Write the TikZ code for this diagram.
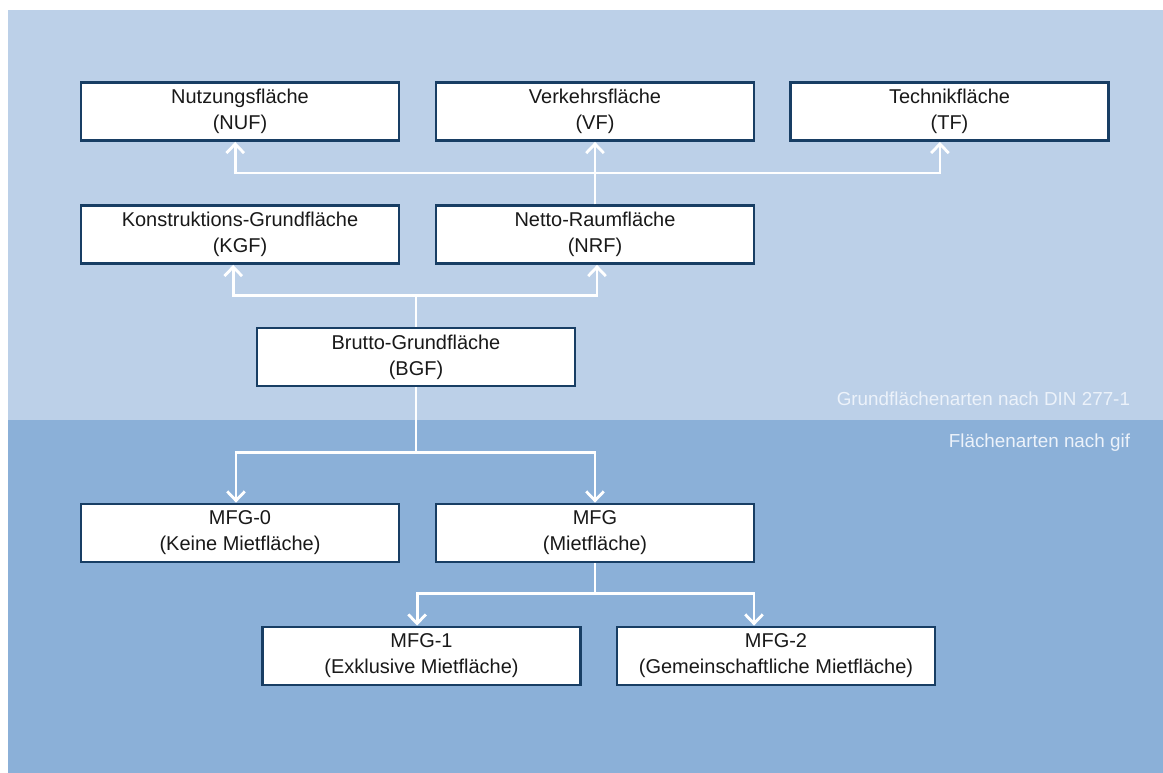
\documentclass[tikz,border=0pt]{standalone}
\usepackage{fontspec}
\setmainfont{Liberation Sans}
\usetikzlibrary{arrows.meta}

\definecolor{fondoclaro}{RGB}{188,208,232}
\definecolor{fondooscuro}{RGB}{139,176,216}
\definecolor{borde}{RGB}{24,62,100}
\definecolor{texto}{RGB}{25,25,25}
\definecolor{rotulo}{RGB}{236,242,250}

\tikzset{
    caja/.style={draw=borde, line width=2pt, fill=white, inner sep=0pt,
        minimum width=7.95cm, minimum height=1.45cm, align=center,
        text=texto, font=\fontsize{14.2}{18.6}\selectfont},
    flecha/.style={draw=white, line width=2pt,
        -{Straight Barb[length=6.5pt,width=12.5pt]}},
    rotulo/.style={anchor=east, text=rotulo, font=\fontsize{13.4}{16}\selectfont},
}

\begin{document}
\begin{tikzpicture}[x=0.025cm,y=-0.025cm]
        % Marco de la figura y las dos franjas de fondo.
        \path[use as bounding box] (0,0) rectangle (1163,773);
        \fill[fondoclaro] (8,10) rectangle (1163,420);
        \fill[fondooscuro] (8,420) rectangle (1163,773);

        % Rotulos de las dos zonas, alineados a la derecha.
        \node[rotulo] (din) at (1135,399) {Grundflächenarten nach DIN 277-1};
        \node[rotulo] (gif) at (1135,443) {Flächenarten nach gif};

        % Fila superior: NUF, VF y TF.
        \node[caja] (NUF) at (240,111.5) {Nutzungsfläche\\(NUF)};
        \node[caja] (VF) at (595,111.5) {Verkehrsfläche\\(VF)};
        \node[caja] (TF) at (949.5,111.5) {Technikfläche\\(TF)};

        % Segunda fila: KGF y NRF, debajo BGF.
        \node[caja] (KGF) at (240,234.5) {Konstruktions-Grundfläche\\(KGF)};
        \node[caja] (NRF) at (595,234.5) {Netto-Raumfläche\\(NRF)};
        \node[caja] (BGF) at (416,357) {Brutto-Grundfläche\\(BGF)};

        % Zona gif: MFG-0 y MFG, y luego MFG-1 y MFG-2.
        \node[caja] (MFG0) at (240,533) {MFG-0\\(Keine Mietfläche)};
        \node[caja] (MFG) at (595,533) {MFG\\(Mietfläche)};
        \node[caja] (MFG1) at (421.5,656) {MFG-1\\(Exklusive Mietfläche)};
        \node[caja] (MFG2) at (776,656) {MFG-2\\(Gemeinschaftliche Mietfläche)};

        % Flechas de NRF hacia NUF, VF y TF.
        \draw[flecha] (NRF.north) -- (VF.south);
        \draw[flecha] (NRF.north) -- ++(0,-31) -| ([xshift=-0.12cm]NUF.south);
        \draw[flecha] (NRF.north) -- ++(0,-31) -| ([xshift=-0.24cm]TF.south);

        % Flechas de BGF hacia KGF y NRF.
        \draw[flecha] (BGF.north) -- ++(0,-31) -| ([xshift=-0.17cm]KGF.south);
        \draw[flecha] (BGF.north) -- ++(0,-31) -| ([xshift=0.05cm]NRF.south);

        % Flechas de BGF hacia MFG-0 y MFG.
        \draw[flecha] (BGF.south) -- ++(0,65) -| ([xshift=-0.1cm]MFG0.north);
        \draw[flecha] (BGF.south) -- ++(0,65) -| (MFG.north);

        % Flechas de MFG hacia MFG-1 y MFG-2.
        \draw[flecha] (MFG.south) -- ++(0,30) -| ([xshift=-0.11cm]MFG1.north);
        \draw[flecha] (MFG.south) -- ++(0,30) -| ([xshift=-0.55cm]MFG2.north);
    \end{tikzpicture}
\end{document}
